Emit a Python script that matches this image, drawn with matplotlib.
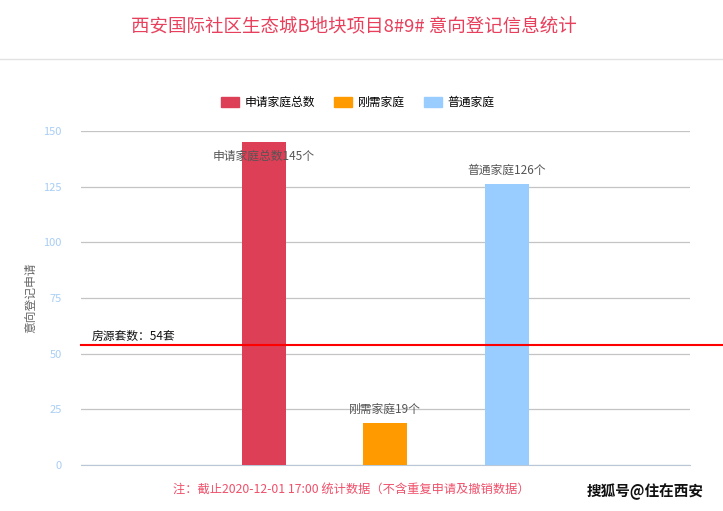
import matplotlib
matplotlib.use('Agg')
import matplotlib.pyplot as plt
from matplotlib.patches import Patch
from matplotlib.lines import Line2D

plt.rcParams['font.family'] = ['Noto Sans CJK SC', 'DejaVu Sans']

# 数据
categories = ['', '申请家庭总数', '刚需家庭', '普通家庭', '']
values = [0, 145, 19, 126, 0]
colors = ['none', '#dc3f56', '#ff9a00', '#99ccff', 'none']
label_texts = ['', '申请家庭总数145个', '刚需家庭19个', '普通家庭126个', '']
label_offsets = [0, -10, 10, 10, 0]
supply = 54
supply_text = '房源套数：54套'
yticks = [0, 25, 50, 75, 100, 125, 150]

fig = plt.figure(figsize=(7.23, 5.11), dpi=100)
ax = fig.add_axes([0.112, 0.090, 0.842, 0.6536])

xs = list(range(len(categories)))
for x, v, c, t, off in zip(xs, values, colors, label_texts, label_offsets):
    if v == 0:
        continue
    ax.bar(x, v, width=0.36, color=c, zorder=3)
    ax.annotate(t, (x, v), xytext=(0, off), textcoords='offset points',
                ha='center', va='center', fontsize=8.5, color='#555555', zorder=5)

ax.set_xlim(-0.5, 4.5)
ax.set_ylim(0, 150)
ax.set_yticks(yticks)
ax.set_xticks([])
ax.tick_params(axis='y', length=0, colors='#a8cdf5', labelsize=8, pad=14)
ax.yaxis.grid(True, color='#c4c4c4', linewidth=0.9, zorder=0)
for s in ['top', 'right', 'left']:
    ax.spines[s].set_visible(False)
ax.spines['bottom'].set_color('#b8c8d8')
ax.set_ylabel('意向登记申请', fontsize=8.5, color='#666666', labelpad=4)

# 房源线
ax.plot([-0.5, 4.78], [supply, supply], color='#ff0000', linewidth=1.5,
        clip_on=False, zorder=4)
ax.text(-0.41, supply + 1, supply_text, fontsize=8.5, color='#111111',
        ha='left', va='bottom')

# 标题与分隔线
fig.text(0.49, 0.946, '西安国际社区生态城B地块项目8#9# 意向登记信息统计',
         fontsize=13.3, color='#e8405c', ha='center', va='center')
fig.add_artist(Line2D([0, 1], [0.884, 0.884], color='#e2e2e2', linewidth=1))

handles = [Patch(color=c) for c in colors[1:4]]
fig.legend(handles, categories[1:4], loc='center', bbox_to_anchor=(0.495, 0.799),
           ncol=3, frameon=False, fontsize=8.5, handlelength=1.5,
           handleheight=1.0, columnspacing=1.6, handletextpad=0.5)

fig.text(0.486, 0.043, '注：截止2020-12-01 17:00 统计数据（不含重复申请及撤销数据）',
         fontsize=8.8, color='#f0506a', ha='center', va='center')
fig.text(0.893, 0.037, '搜狐号@住在西安', fontsize=10.5, color='#111111',
         ha='center', va='center', fontweight='bold')

fig.savefig('out.png', dpi=100)
